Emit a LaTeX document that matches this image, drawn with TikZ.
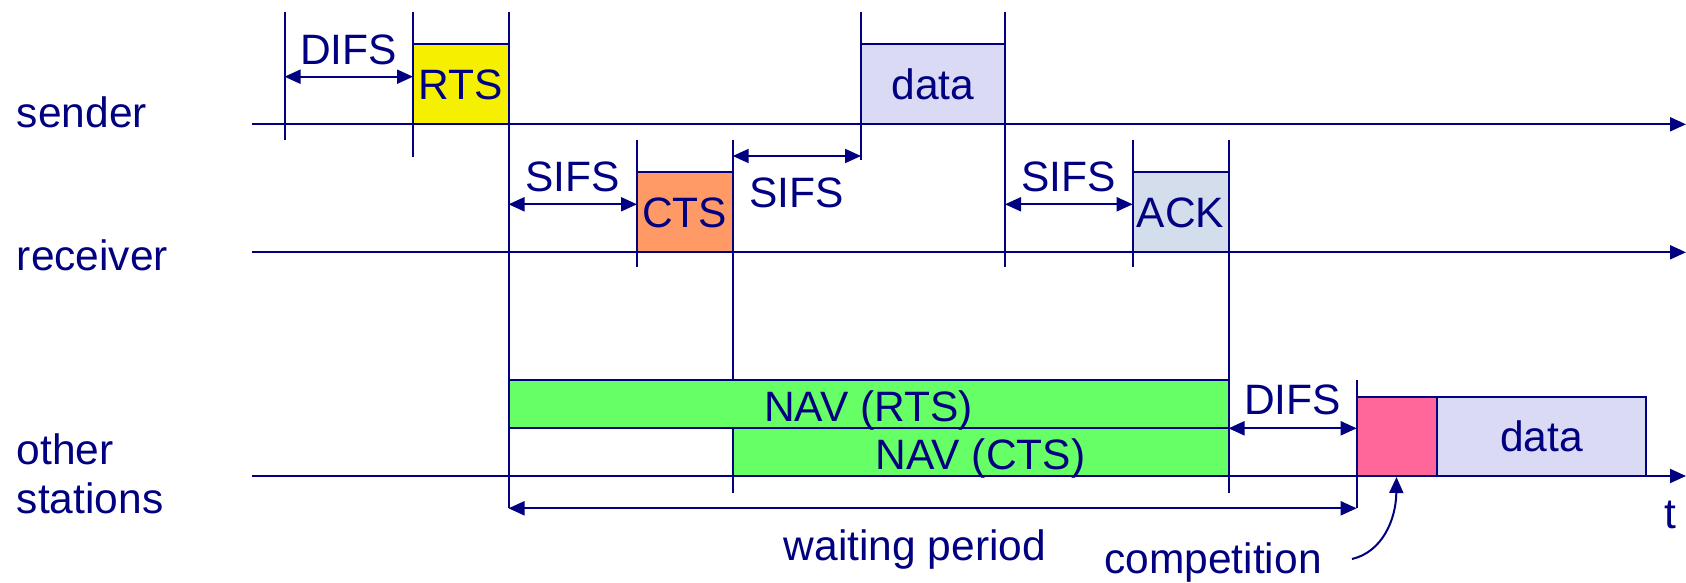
\documentclass[tikz,border=0pt]{standalone}
\usepackage{fontspec}
\setmainfont{Liberation Sans}
\usetikzlibrary{arrows.meta}
\definecolor{navy}{RGB}{0,0,128}
\definecolor{rtsY}{RGB}{245,240,0}
\definecolor{ctsO}{RGB}{255,153,102}
\definecolor{dataL}{RGB}{218,218,245}
\definecolor{ackB}{RGB}{211,221,236}
\definecolor{navG}{RGB}{102,255,102}
\definecolor{pinkC}{RGB}{255,102,153}
\tikzset{
  ln/.style={draw=navy, line width=2pt},
  frame/.style={draw=navy, line width=2pt, inner sep=0pt, outer sep=0pt},
  lbl/.style={text=navy, font=\fontsize{42.5}{49}\selectfont, inner sep=0pt, anchor=base},
  tip/.tip={Triangle[length=16pt,width=14pt]},
  dim/.style={draw=navy, line width=2pt, tip-tip},
  axis/.style={draw=navy, line width=2pt, -tip},
}
\begin{document}
\begin{tikzpicture}[x=1pt,y=-1pt]
\useasboundingbox (0,0) rectangle (1686,583);
% vertical markers (behind the boxes)
\draw[ln] (284.5,12) -- (284.5,140);
\draw[ln] (413,12) -- (413,157);
\draw[ln] (508.5,12) -- (508.5,508.3);
\draw[ln] (637,140) -- (637,266.6);
\draw[ln] (732.7,140) -- (732.7,492.7);
\draw[ln] (861,12) -- (861,160);
\draw[ln] (1005,12) -- (1005,266.6);
\draw[ln] (1132.7,140) -- (1132.7,266.6);
\draw[ln] (1228.5,140) -- (1228.5,492.7);
\draw[ln] (1356.7,380) -- (1356.7,508.3);
% boxes
\path[frame, fill=rtsY] (413,44) rectangle (508.5,124.3);
\path[frame, fill=dataL] (861,44) rectangle (1005,124.3);
\path[frame, fill=ctsO] (637,172.3) rectangle (732.7,252.3);
\path[frame, fill=ackB] (1132.7,172.3) rectangle (1228.5,252.3);
\path[frame, fill=navG] (508.5,380) rectangle (1228.5,428.3);
\path[frame, fill=navG] (732.7,428.3) rectangle (1228.5,476);
\path[frame, fill=pinkC] (1356.7,396.7) rectangle (1437.4,476);
\path[frame, fill=dataL] (1437.4,396.7) rectangle (1645.6,476);
% time axes
\coordinate (s0) at (252,124.3); \coordinate (s1) at (1686,124.3);
\coordinate (r0) at (252,252.3); \coordinate (r1) at (1686,252.3);
\coordinate (o0) at (252,476);   \coordinate (o1) at (1686,476);
\draw[axis] (s0) -- (s1);
\draw[axis] (r0) -- (r1);
\draw[axis] (o0) -- (o1);
% interval arrows
\coordinate (d1a) at (284.5,76.7);  \coordinate (d1b) at (413,76.7);
\coordinate (s1a) at (508.5,204.3); \coordinate (s1b) at (637,204.3);
\coordinate (s2a) at (732.7,156);   \coordinate (s2b) at (861,156);
\coordinate (s3a) at (1005,204.3);  \coordinate (s3b) at (1132.7,204.3);
\coordinate (d2a) at (1228.5,428.3); \coordinate (d2b) at (1356.7,428.3);
\coordinate (wa) at (508.5,508.3);  \coordinate (wb) at (1356.7,508.3);
\draw[dim] (d1a) -- (d1b);
\draw[dim] (s1a) -- (s1b);
\draw[dim] (s2a) -- (s2b);
\draw[dim] (s3a) -- (s3b);
\draw[dim] (d2a) -- (d2b);
\draw[dim] (wa) -- (wb);
% labels
\node[lbl] (difs1) at (348.7,64.3) {DIFS};
\node[lbl] (rts) at (460.7,100) {RTS};
\node[lbl] (data1) at (933,100) {data};
\node[lbl] (sifs1) at (572.7,191.7) {SIFS};
\node[lbl] (cts) at (684.8,227.3) {CTS};
\node[lbl] (sifs2) at (796.8,207.3) {SIFS};
\node[lbl] (sifs3) at (1068.8,191.7) {SIFS};
\node[lbl] (ack) at (1180.6,227.3) {ACK};
\node[lbl] (navr) at (868.5,421) {NAV (RTS)};
\node[lbl] (navc) at (980.6,469.3) {NAV (CTS)};
\node[lbl] (difs2) at (1292.6,414) {DIFS};
\node[lbl] (data2) at (1541.5,451.7) {data};
\node[lbl] (t) at (1670,528.3) {t};
\node[lbl] (wait) at (915,560) {waiting period};
\node[lbl] (comp) at (1213,573.3) {competition};
\node[lbl, anchor=base west] (snd) at (16.7,127.3) {sender};
\node[lbl, anchor=base west] (rcv) at (16.7,270) {receiver};
\node[lbl, anchor=base west] (oth) at (16.7,464.3) {other};
\node[lbl, anchor=base west] (sta) at (16.7,513.3) {stations};
% competition pointer
\coordinate (cp0) at (1352,559);
\coordinate (cp1) at (1396.5,477);
\draw[draw=navy, line width=2pt, -tip] (cp0) .. controls (1382,552) and (1396,520) .. (cp1);
\end{tikzpicture}
\end{document}
